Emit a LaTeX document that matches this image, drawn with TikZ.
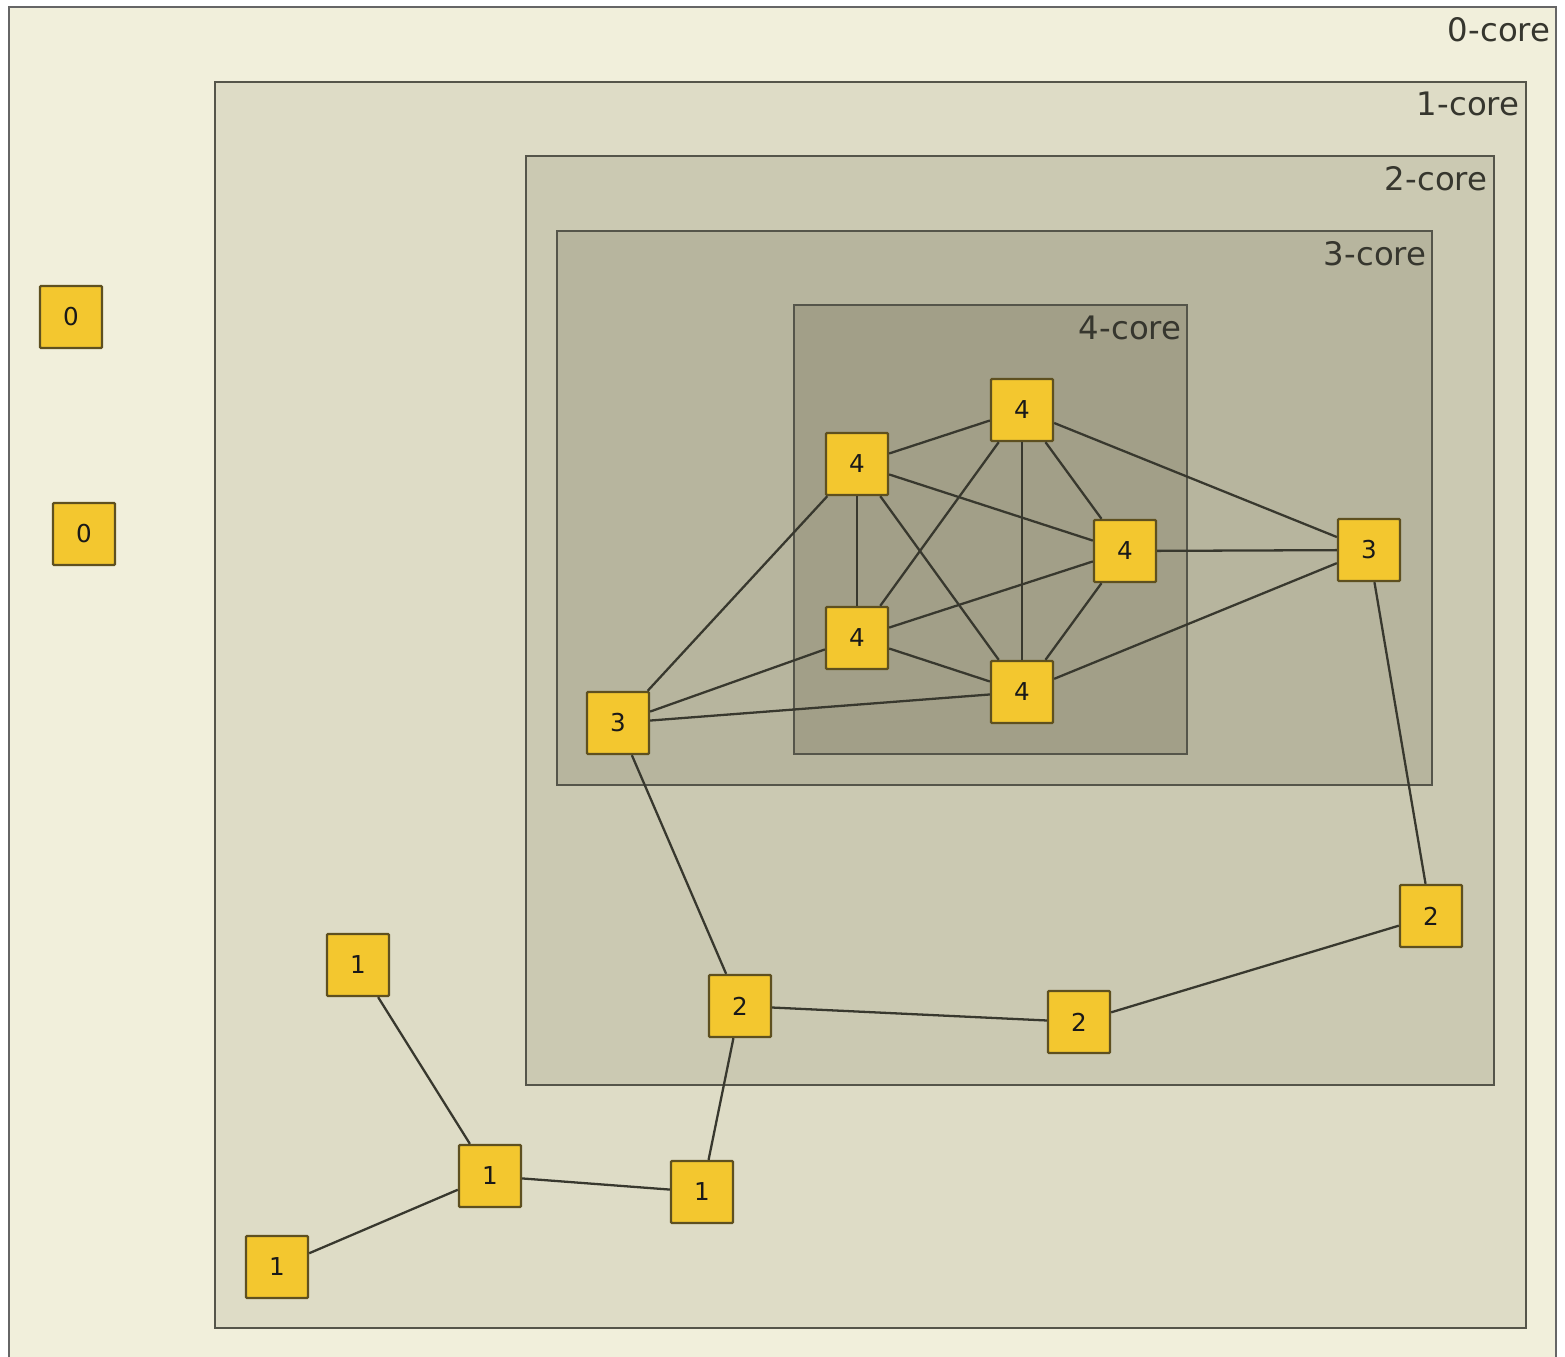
\documentclass[tikz,border=0pt]{standalone}
\usepackage{fontspec}
\setmainfont{DejaVu Sans}
\definecolor{c0}{HTML}{F1EFDB}
\definecolor{c1}{HTML}{DEDCC6}
\definecolor{c2}{HTML}{CBC9B2}
\definecolor{c3}{HTML}{B7B59E}
\definecolor{c4}{HTML}{A29F88}
\definecolor{nodefill}{HTML}{F3C72F}
\definecolor{nodeedge}{HTML}{5E5020}
\definecolor{boxedge}{HTML}{55554A}
\definecolor{edgecol}{HTML}{38382E}
\definecolor{labelcol}{HTML}{36362E}
\begin{document}
\begin{tikzpicture}[x=0.01cm,y=-0.01cm,
  corebox/.style={draw=boxedge,line width=0.8pt},
  corelabel/.style={anchor=north east,inner sep=0pt,text=labelcol,font=\fontsize{9.2}{11}\selectfont},
  vtx/.style={draw=nodeedge,fill=nodefill,line width=0.65pt,minimum size=0.62cm,inner sep=0pt,rounded corners=0.3pt,font=\fontsize{7}{8}\selectfont,text=black!90},
  link/.style={draw=edgecol,line width=0.65pt}]
\useasboundingbox (0,0) rectangle (1565,1357);
\fill[white] (0,0) rectangle (1565,1357);
% core boxes
\draw[corebox,fill=c0,draw=gray!80!black] (9,7) rectangle (1556,1370);
\draw[corebox,fill=c1] (215,82) rectangle (1526,1328);
\draw[corebox,fill=c2] (526,156) rectangle (1494,1085);
\draw[corebox,fill=c3] (557,231) rectangle (1432,785);
\draw[corebox,fill=c4] (794,305) rectangle (1187,754);
\node[corelabel] (l0) at (1551,17) {0-core};
\node[corelabel] (l1) at (1520,91) {1-core};
\node[corelabel] (l2) at (1488,166) {2-core};
\node[corelabel] (l3) at (1427,241) {3-core};
\node[corelabel] (l4) at (1182,315) {4-core};
% vertices
\node[vtx] (z1) at (71,317) {0};
\node[vtx] (z2) at (84,534) {0};
\node[vtx] (a) at (857,464) {4};
\node[vtx] (b) at (1022,410) {4};
\node[vtx] (c) at (1125,551) {4};
\node[vtx] (d) at (857,638) {4};
\node[vtx] (e) at (1022,692) {4};
\node[vtx] (t1) at (618,723) {3};
\node[vtx] (t2) at (1369,550) {3};
\node[vtx] (w1) at (740,1006) {2};
\node[vtx] (w2) at (1079,1022) {2};
\node[vtx] (w3) at (1431,916) {2};
\node[vtx] (o1) at (358,965) {1};
\node[vtx] (o2) at (490,1176) {1};
\node[vtx] (o3) at (702,1192) {1};
\node[vtx] (o4) at (277,1267) {1};
% edges
\foreach \u/\v in {a/b,a/c,a/d,a/e,a/t1,b/c,b/d,b/e,b/t2,c/d,c/e,c/t2,d/e,d/t1,e/t1,e/t2,t1/w1,t2/w3,w1/w2,w2/w3,w1/o3,o3/o2,o2/o1,o2/o4}
  \draw[link] (\u) -- (\v);
\end{tikzpicture}
\end{document}
